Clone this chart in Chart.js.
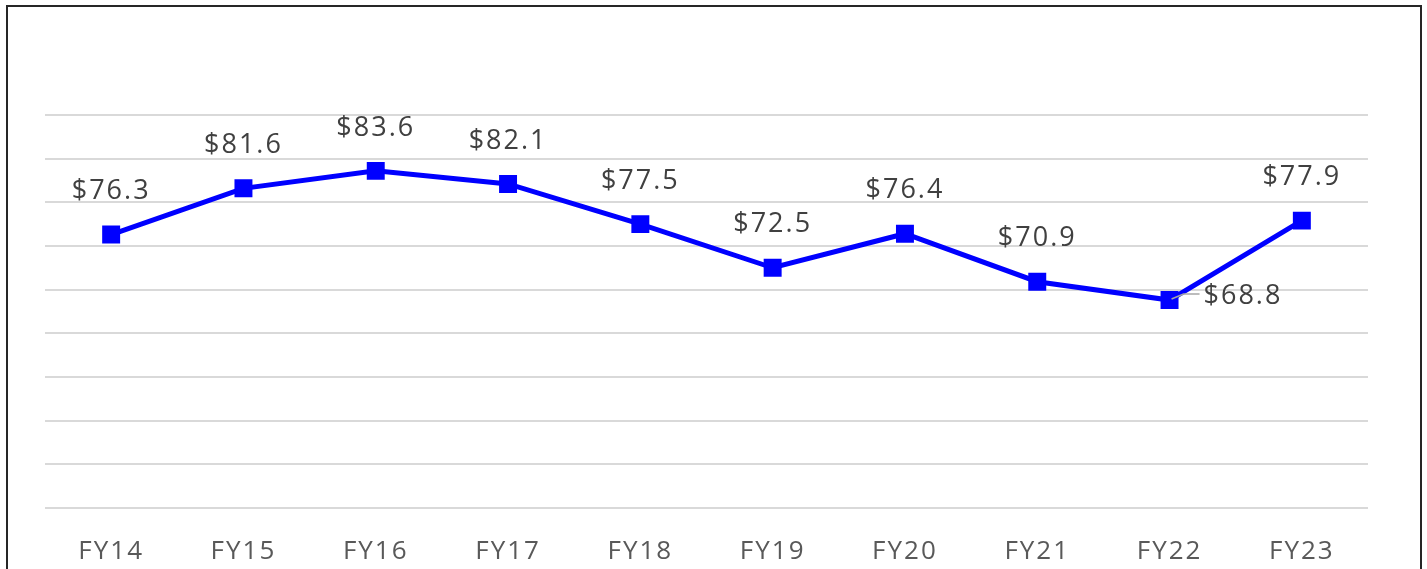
<!DOCTYPE html>
<html>
<head>
<meta charset="utf-8">
<script src="https://cdn.jsdelivr.net/npm/chart.js@4/dist/chart.umd.min.js"></script>
<style>
  html, body { margin: 0; padding: 0; background: #fff; overflow: hidden; }
  #chart { position: absolute; left: 0; top: 0; }
  #frame {
    position: absolute; left: 6px; top: 5px;
    width: 1412px; height: 620px;
    border: 2px solid #262626;
    pointer-events: none;
  }
</style>
</head>
<body>
<!-- canvas runs a little past the window bottom so the axis labels sit low like the original -->
<canvas id="chart" width="1427" height="587"></canvas>
<div id="frame"></div>
<script>
  const years = ['FY14', 'FY15', 'FY16', 'FY17', 'FY18', 'FY19', 'FY20', 'FY21', 'FY22', 'FY23'];
  const values = [76.3, 81.6, 83.6, 82.1, 77.5, 72.5, 76.4, 70.9, 68.8, 77.9];
  const yMin = 45;
  const yMax = 90;
  const yStep = 5;

  const LABEL_COLOR = '#404040';
  const AXIS_COLOR = '#595959';

  // sets the wide letter spacing used in the original
  const spacing = {
    id: 'spacing',
    beforeUpdate(chart) { chart.ctx.letterSpacing = '2px'; },
    beforeDraw(chart) { chart.ctx.letterSpacing = '2px'; }
  };

  const valueLabels = {
    id: 'valueLabels',
    afterDatasetsDraw(chart) {
      const ctx = chart.ctx;
      const pts = chart.getDatasetMeta(0).data;
      ctx.save();
      ctx.letterSpacing = '2px';
      ctx.font = '27px "Open Sans"';
      ctx.fillStyle = LABEL_COLOR;
      pts.forEach((p, i) => {
        const text = '$' + values[i].toFixed(1);
        if (years[i] === 'FY22') {
          // label sits to the right with a short leader line
          ctx.strokeStyle = '#a6a6a6';
          ctx.lineWidth = 1.5;
          ctx.beginPath();
          ctx.moveTo(p.x + 2, p.y - 1);
          ctx.lineTo(p.x + 14, p.y - 6);
          ctx.lineTo(p.x + 30, p.y - 6);
          ctx.stroke();
          ctx.textAlign = 'left';
          ctx.textBaseline = 'middle';
          ctx.fillText(text, p.x + 34, p.y - 4);
        } else {
          ctx.textAlign = 'center';
          ctx.textBaseline = 'middle';
          ctx.fillText(text, p.x, p.y - 43);
        }
      });
      ctx.restore();
    }
  };

  new Chart(document.getElementById('chart').getContext('2d'), {
    type: 'line',
    data: {
      labels: years,
      datasets: [{
        data: values,
        borderColor: '#0000ff',
        backgroundColor: '#0000ff',
        borderWidth: 5,
        pointStyle: 'rect',
        pointRadius: 12.7,
        pointBorderWidth: 0,
        tension: 0,
        fill: false
      }]
    },
    options: {
      responsive: false,
      animation: false,
      devicePixelRatio: 1,
      layout: { padding: { left: 45, right: 59, top: 115, bottom: 0 } },
      plugins: {
        legend: { display: false },
        tooltip: { enabled: false }
      },
      scales: {
        x: {
          offset: true,
          grid: { display: false },
          border: { display: false },
          ticks: {
            color: AXIS_COLOR,
            font: { family: 'Open Sans', size: 26 },
            padding: 20,
            maxRotation: 0
          }
        },
        y: {
          min: yMin,
          max: yMax,
          ticks: { display: false, stepSize: yStep },
          border: { display: false },
          grid: { color: '#d9d9d9', lineWidth: 2, drawTicks: false }
        }
      }
    },
    plugins: [spacing, valueLabels]
  });
</script>
</body>
</html>
